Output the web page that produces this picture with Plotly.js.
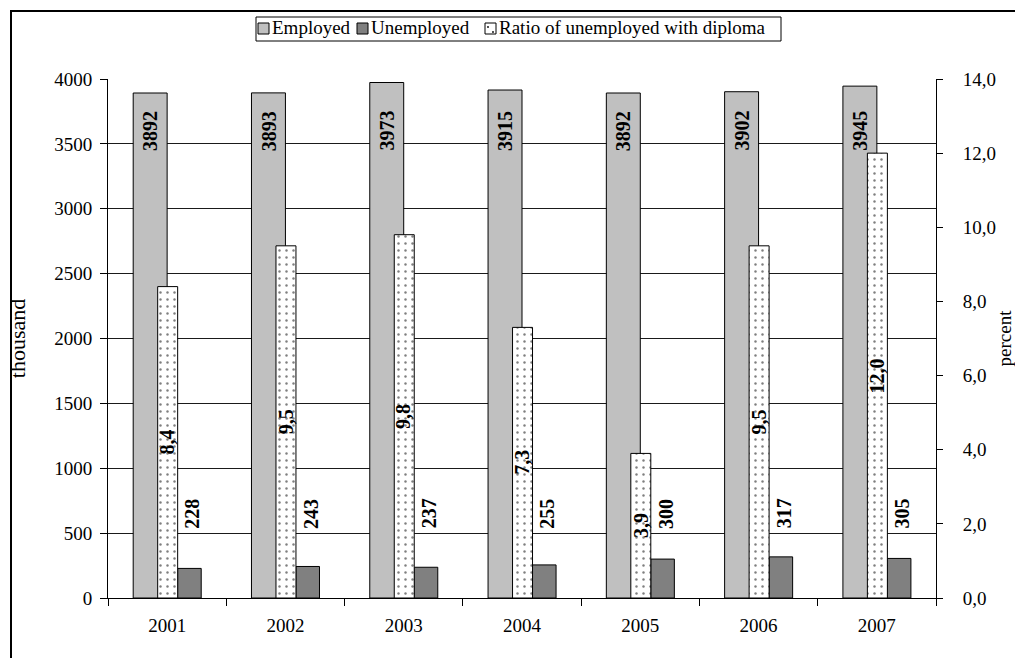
<!DOCTYPE html>
<html>
<head>
<meta charset="utf-8">
<script src="https://cdn.plot.ly/plotly-3.0.1.min.js"></script>
<style>
  html, body { margin: 0; padding: 0; background: #fff; }
  #chart { width: 1015px; height: 658px; }
</style>
</head>
<body>
<div id="chart"></div>
<script>
// Labour market figures, 2001-2007
const years = ['2001', '2002', '2003', '2004', '2005', '2006', '2007'];
const employed = [3892, 3893, 3973, 3915, 3892, 3902, 3945];          // thousand
const unemployed = [228, 243, 237, 255, 300, 317, 305];               // thousand
const diplomaRatio = [8.4, 9.5, 9.8, 7.3, 3.9, 9.5, 12.0];            // percent
const seriesNames = ['Employed', 'Unemployed', 'Ratio of unemployed with diploma'];

const serif = '"Liberation Serif", "Times New Roman", Times, serif';
const fmtPct = v => v.toFixed(1).replace('.', ',');

// plot area in pixels (used to place the framed legend and outer border)
const W = 1015, H = 658;
const M = { l: 108, r: 79, t: 79, b: 60 };
const PW = W - M.l - M.r, PH = H - M.t - M.b;
const px = x => (x - M.l) / PW;
const py = y => (H - M.b - y) / PH;

// one category slot is 1 unit wide; bar geometry inside a slot
const EMP = { offset: -0.287, width: 0.287 };
const RAT = { offset: -0.080, width: 0.169 };
const UNE = { offset: 0.089, width: 0.199 };

const EMP_COLOR = '#c0c0c0', UNE_COLOR = '#808080';

const traces = [
  {
    type: 'bar', name: seriesNames[0], x: years, y: employed,
    offset: EMP.offset, width: EMP.width,
    marker: { color: EMP_COLOR, line: { color: '#000', width: 1 } },
    hoverinfo: 'skip'
  },
  {
    type: 'bar', name: seriesNames[1], x: years, y: unemployed,
    offset: UNE.offset, width: UNE.width,
    marker: { color: UNE_COLOR, line: { color: '#000', width: 1 } },
    hoverinfo: 'skip'
  },
  {
    type: 'bar', name: seriesNames[2], x: years, y: diplomaRatio,
    yaxis: 'y2', offset: RAT.offset, width: RAT.width,
    marker: {
      color: '#ffffff',
      line: { color: '#000', width: 1 },
      pattern: { shape: '.', fgcolor: '#000', bgcolor: '#ffffff', size: 7, solidity: 0.1, fillmode: 'overlay' }
    },
    hoverinfo: 'skip'
  }
];

// value labels, bold and turned upright
const labelFont = { family: serif, size: 20, color: '#000' };
const annotations = [];
years.forEach((yr, i) => {
  annotations.push({
    x: i, y: 3600, xref: 'x', yref: 'y', xshift: -17,
    text: '<b>' + employed[i] + '</b>', textangle: -90, showarrow: false,
    xanchor: 'center', yanchor: 'middle', font: labelFont
  });
  annotations.push({
    x: i, y: diplomaRatio[i] / 2, xref: 'x', yref: 'y2', xshift: 0,
    text: '<b>' + fmtPct(diplomaRatio[i]) + '</b>', textangle: -90, showarrow: false,
    xanchor: 'center', yanchor: 'middle', font: labelFont
  });
  annotations.push({
    x: i, y: 650, xref: 'x', yref: 'y', xshift: 25,
    text: '<b>' + unemployed[i] + '</b>', textangle: -90, showarrow: false,
    xanchor: 'center', yanchor: 'middle', font: labelFont
  });
});

// framed legend: box, swatches and names
const legendBox = { x0: 256, x1: 781, y0: 17, y1: 41 };
const swatchX = [258, 357, 485];
const textX = [270, 369, 497];
const swatchTop = 23, swatchBottom = 34;
const shapes = [
  {
    type: 'rect', xref: 'paper', yref: 'paper',
    x0: px(legendBox.x0), x1: px(legendBox.x1), y0: py(legendBox.y1), y1: py(legendBox.y0),
    line: { color: '#000', width: 1 }, fillcolor: '#ffffff', layer: 'above'
  }
];
const swatchFill = [EMP_COLOR, UNE_COLOR, '#ffffff'];
seriesNames.forEach((name, k) => {
  shapes.push({
    type: 'rect', xref: 'paper', yref: 'paper',
    x0: px(swatchX[k]), x1: px(swatchX[k] + 11), y0: py(swatchBottom), y1: py(swatchTop),
    line: { color: '#000', width: 1 }, fillcolor: swatchFill[k], layer: 'above'
  });
  annotations.push({
    x: px(textX[k]), y: py((swatchTop + swatchBottom) / 2 - 1), xref: 'paper', yref: 'paper',
    text: name, showarrow: false, xanchor: 'left', yanchor: 'middle',
    font: { family: serif, size: 19, color: '#000' }
  });
});
// dots inside the pattern swatch
[[488, 27], [493, 32]].forEach(([dx, dy]) => {
  shapes.push({
    type: 'circle', xref: 'paper', yref: 'paper',
    x0: px(dx - 0.9), x1: px(dx + 0.9), y0: py(dy + 0.9), y1: py(dy - 0.9),
    line: { width: 0 }, fillcolor: '#000', layer: 'above'
  });
});
// outer frame of the chart
shapes.push({
  type: 'rect', xref: 'paper', yref: 'paper',
  x0: px(11), x1: px(W + 20), y0: py(H + 20), y1: py(11),
  line: { color: '#000', width: 2 }, fillcolor: 'rgba(0,0,0,0)', layer: 'above'
});

const layout = {
  width: W, height: H,
  margin: { l: M.l, r: M.r, t: M.t, b: M.b, pad: 0 },
  paper_bgcolor: '#ffffff', plot_bgcolor: '#ffffff',
  font: { family: serif, size: 19, color: '#000' },
  separators: ', ',
  barmode: 'overlay',
  showlegend: false,
  xaxis: {
    type: 'category', range: [-0.5, 6.5],
    showline: true, linecolor: '#000', linewidth: 1,
    ticks: 'outside', ticklen: 7, tickcolor: '#000', tickson: 'boundaries',
    ticklabelstandoff: 10,
    showgrid: false, zeroline: false, fixedrange: true
  },
  yaxis: {
    range: [0, 4000], dtick: 500, tick0: 0,
    showline: true, linecolor: '#000', linewidth: 1,
    ticks: 'outside', ticklen: 7, tickcolor: '#000', ticklabelstandoff: 4,
    showgrid: true, gridcolor: '#1a1a1a', gridwidth: 1, zeroline: false,
    title: { text: 'thousand', font: { family: serif, size: 22, color: '#000' }, standoff: 22 },
    fixedrange: true
  },
  yaxis2: {
    overlaying: 'y', side: 'right', range: [0, 14], dtick: 2, tick0: 0,
    tickformat: '.1f',
    showline: true, linecolor: '#000', linewidth: 1,
    ticks: 'outside', ticklen: 6, tickcolor: '#000', ticklabelstandoff: 16,
    showgrid: false, zeroline: false,
    title: { text: 'percent', font: { family: serif, size: 19, color: '#000' }, standoff: 2 },
    fixedrange: true
  },
  annotations: annotations,
  shapes: shapes
};

Plotly.newPlot('chart', traces, layout, { staticPlot: true, displayModeBar: false });
</script>
</body>
</html>
